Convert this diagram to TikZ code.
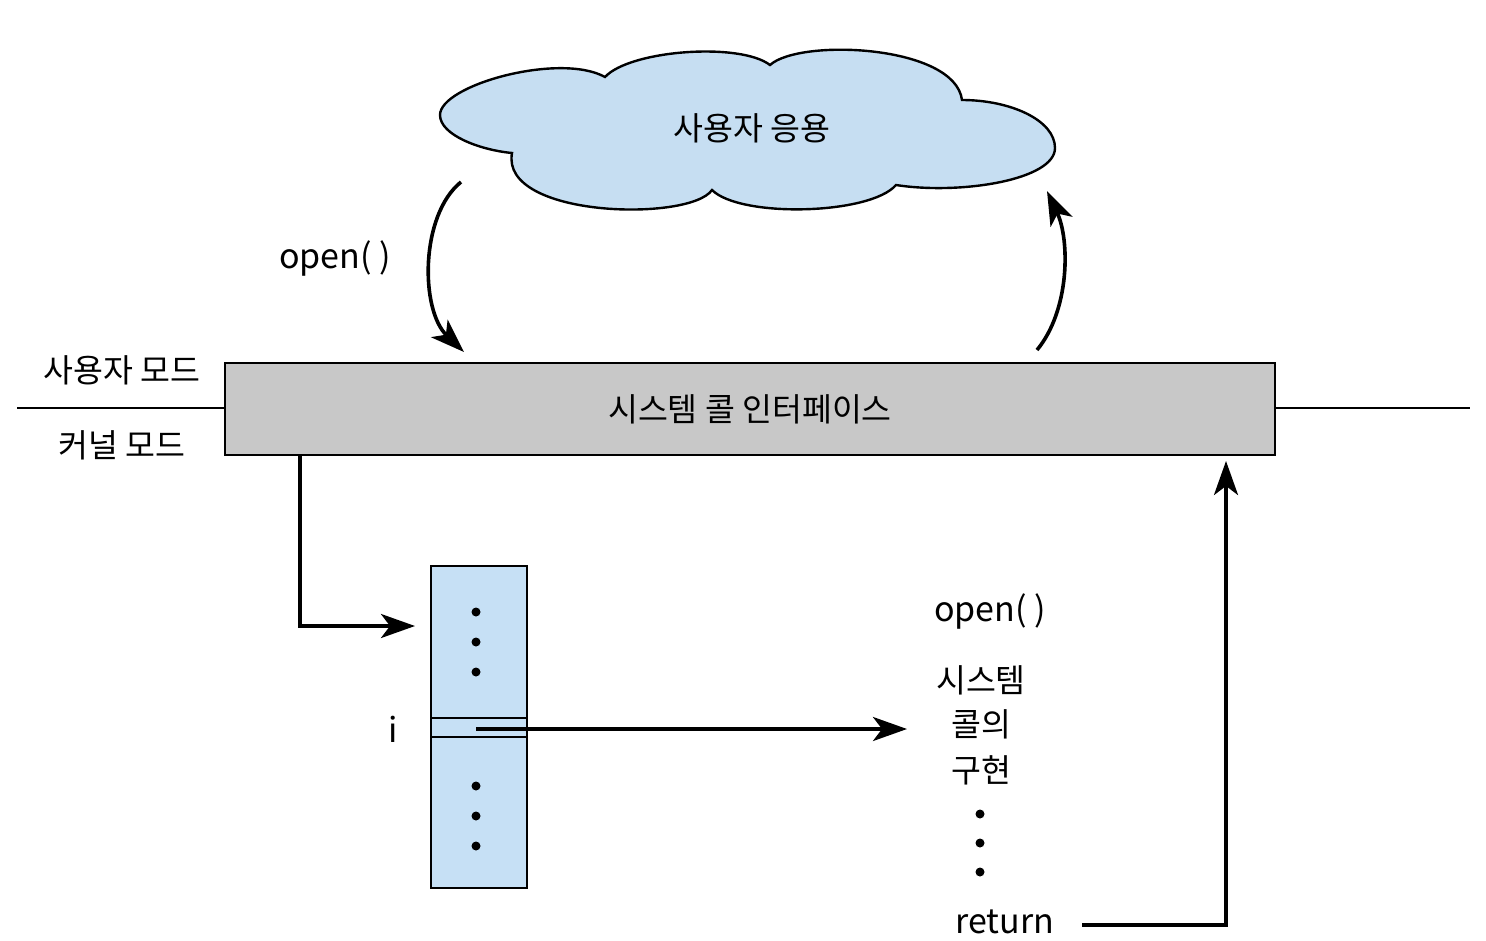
\documentclass[tikz,border=0pt]{standalone}
\usepackage{fontspec}
\setmainfont{Noto Sans CJK KR}
\usetikzlibrary{arrows.meta}
\definecolor{cloudblue}{HTML}{C6DEF2}
\definecolor{tblblue}{HTML}{C6E0F5}
\definecolor{scigray}{HTML}{C8C8C8}
\tikzset{
  ko/.style={font=\fontsize{32.5}{38}\selectfont, inner sep=0pt},
  la/.style={font=\fontsize{34}{40}\selectfont, inner sep=0pt},
  arr/.style={line width=3.6pt, -{Stealth[length=34pt,width=24pt,inset=9pt]}},
  thinline/.style={line width=2pt},
  dot/.style={circle, fill=black, inner sep=0pt, minimum size=9pt},
}
\begin{document}
\begin{tikzpicture}[x=1pt,y=-1pt]
\useasboundingbox (0,0) rectangle (1486,940);
% cloud
\draw[fill=cloudblue, line width=2.4pt]
  (512,153) .. controls (480,150) and (440,135) .. (440,115)
  .. controls (440,85) and (560,52) .. (605,77)
  .. controls (630,50) and (740,42) .. (770,65)
  .. controls (800,38) and (955,45) .. (962,100)
  .. controls (1010,100) and (1055,120) .. (1055,148)
  .. controls (1055,180) and (960,195) .. (896,185)
  .. controls (870,215) and (740,218) .. (712,190)
  .. controls (690,222) and (500,218) .. (512,153) -- cycle;
\node[ko] (app) at (752,128) {사용자 응용};
% mode line
\coordinate (ml) at (17,408);
\coordinate (mr) at (1470,408);
\node[draw, thinline, fill=scigray, minimum width=1050pt, minimum height=92pt, inner sep=0pt] (sci) at (750,409) {};
\node[ko] at (sci.center) {시스템 콜 인터페이스};
\draw[thinline] (ml) -- (ml -| sci.west);
\draw[thinline] (mr -| sci.east) -- (mr);
\node[ko] (um) at (122,370) {사용자 모드};
\node[ko] (km) at (122,445) {커널 모드};
% arcs
\coordinate (a1) at (461,182);
\coordinate (a2) at (464,352);
\coordinate (b1) at (1037,350);
\coordinate (b2) at (1047,191);
\draw[arr] (a1) .. controls (420,215) and (420,310) .. (a2);
\draw[arr] (b1) .. controls (1070,310) and (1070,240) .. (b2);
\node[la] (op1) at (335,258) {open( )};
% table
\node[draw, thinline, fill=tblblue, minimum width=96pt, minimum height=322pt, inner sep=0pt] (tbl) at (479,727) {};
\draw[thinline] (tbl.west |- 0,718) -- (tbl.east |- 0,718);
\draw[thinline] (tbl.west |- 0,737) -- (tbl.east |- 0,737);
\foreach \y in {612,642,672,786,816,846} \node[dot] at (476,\y) {};
\node[la] (i) at (393,729) {i};
% down arrow into table
\coordinate (d0) at (300,455);
\coordinate (d1) at (300,626);
\coordinate (d2) at (415,626);
\draw[arr] (d0) -- (d1) -- (d2);
% arrow to implementation
\coordinate (s0) at (476,729);
\coordinate (s1) at (907,729);
\draw[arr] (s0) -- (s1);
% implementation text
\node[la] (op2) at (990,611) {open( )};
\node[ko] (t1) at (981,680) {시스템};
\node[ko] (t2) at (981,724) {콜의};
\node[ko] (t3) at (981,770) {구현};
\foreach \y in {814,843,872} \node[dot] at (980,\y) {};
\node[la] (ret) at (1005,922) {return};
% return arrow
\coordinate (r0) at (1082,925);
\coordinate (r1) at (1226,925);
\coordinate (r2) at (1226,461);
\draw[arr] (r0) -- (r1) -- (r2);
\end{tikzpicture}
\end{document}
